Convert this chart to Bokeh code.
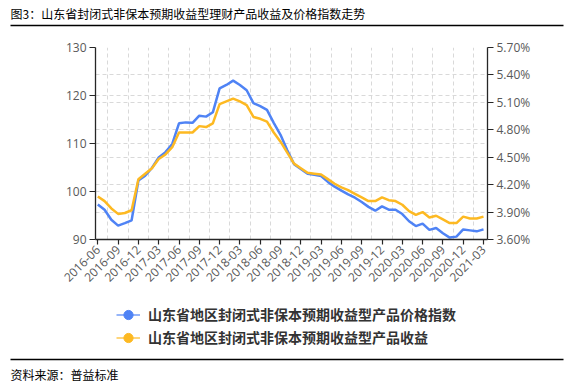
import math
from bokeh.plotting import figure
from bokeh.models import (Range1d, LinearAxis, FixedTicker, PrintfTickFormatter, Grid,
                          Legend, LegendItem)
from bokeh.embed import file_html
from bokeh.resources import INLINE
from bokeh.core.properties import value

# ---------------- data ----------------
months = [
    "2016-06", "2016-07", "2016-08", "2016-09", "2016-10", "2016-11", "2016-12",
    "2017-01", "2017-02", "2017-03", "2017-04", "2017-05", "2017-06", "2017-07",
    "2017-08", "2017-09", "2017-10", "2017-11", "2017-12", "2018-01", "2018-02",
    "2018-03", "2018-04", "2018-05", "2018-06", "2018-07", "2018-08", "2018-09",
    "2018-10", "2018-11", "2018-12", "2019-01", "2019-02", "2019-03", "2019-04",
    "2019-05", "2019-06", "2019-07", "2019-08", "2019-09", "2019-10", "2019-11",
    "2019-12", "2020-01", "2020-02", "2020-03", "2020-04", "2020-05", "2020-06",
    "2020-07", "2020-08", "2020-09", "2020-10", "2020-11", "2020-12", "2021-01",
    "2021-02", "2021-03",
]

price_index = [
    97.3, 96.2, 94.1, 92.9, 93.4, 94.0, 102.3, 103.3, 104.9, 107.1,
    108.2, 109.9, 114.2, 114.4, 114.3, 115.8, 115.6, 116.5, 121.5, 122.2,
    123.1, 122.2, 121.1, 118.4, 117.8, 117.0, 114.3, 111.8, 108.6, 105.7,
    104.7, 103.7, 103.5, 103.2, 102.0, 101.0, 100.2, 99.4, 98.7, 97.8,
    96.8, 96.0, 96.9, 96.2, 96.2, 95.3, 93.8, 92.8, 93.3, 92.0,
    92.4, 91.3, 90.4, 90.6, 92.1, 91.9, 91.7, 92.1,
]

yield_pct = [
    4.07, 4.02, 3.94, 3.88, 3.89, 3.92, 4.26, 4.32, 4.38, 4.48,
    4.53, 4.61, 4.77, 4.77, 4.77, 4.84, 4.83, 4.87, 5.08, 5.11,
    5.14, 5.11, 5.07, 4.94, 4.92, 4.89, 4.77, 4.67, 4.55, 4.43,
    4.38, 4.33, 4.32, 4.31, 4.26, 4.21, 4.17, 4.14, 4.10, 4.06,
    4.02, 4.02, 4.06, 4.03, 4.02, 3.98, 3.91, 3.87, 3.90, 3.84,
    3.86, 3.82, 3.78, 3.78, 3.85, 3.83, 3.83, 3.85,
]

left_ticks = [90, 100, 110, 120, 130]
right_ticks = [3.6, 3.9, 4.2, 4.5, 4.8, 5.1, 5.4, 5.7]

title_text = "图3：山东省封闭式非保本预期收益型理财产品收益及价格指数走势"
source_text = "资料来源：普益标准"
series_names = [
    "山东省地区封闭式非保本预期收益型产品价格指数",
    "山东省地区封闭式非保本预期收益型产品收益",
]

# ---------------- style ----------------
BLUE = "#4f83f5"
YELLOW = "#fdb922"
AXIS_COLOR = "#262626"
LABEL_COLOR = "#595959"
GRID_COLOR = "#d9d9d9"
CJK = "Noto Sans CJK SC"

W = 568
H_TOP, H_MAIN, H_BOT = 30, 265, 89
FRAME_LEFT, FRAME_W = 95, 392
FRAME_TOP, FRAME_H = 17, 192


def blank(height):
    f = figure(width=W, height=height, x_range=Range1d(0, W), y_range=Range1d(0, height),
               x_axis_type=None, y_axis_type=None, min_border=0,
               output_backend="svg", toolbar_location=None)
    f.outline_line_color = None
    return f


# ---------------- header ----------------
top = blank(H_TOP)
top.text(x=[10], y=[H_TOP - 12.5], text=[title_text], text_font=value(CJK),
         text_font_size=value("12px"), text_baseline="middle", text_align="left",
         text_color="#000000")
top.segment(x0=[10], y0=[H_TOP - 25], x1=[563], y1=[H_TOP - 25],
            line_color="#000000", line_width=1.3)

# ---------------- main chart ----------------
x = list(range(len(months)))
quarter_idx = x[::3]

p = figure(frame_width=FRAME_W, frame_height=FRAME_H,
           x_range=Range1d(-0.34, len(months) - 1 + 0.59),
           y_range=Range1d(left_ticks[0], left_ticks[-1]),
           min_border_left=FRAME_LEFT, min_border_right=W - FRAME_LEFT - FRAME_W,
           min_border_top=FRAME_TOP, min_border_bottom=H_MAIN - FRAME_TOP - FRAME_H,
           output_backend="svg", toolbar_location=None)
p.outline_line_color = None
p.extra_y_ranges = {"right": Range1d(right_ticks[0], right_ticks[-1])}

p.xgrid.ticker = FixedTicker(ticks=[i + 1.5 for i in quarter_idx[:-1]])
p.ygrid.ticker = FixedTicker(ticks=left_ticks)
for g in (p.xgrid[0], p.ygrid[0]):
    g.grid_line_color = GRID_COLOR
    g.grid_line_dash = "4 3"
    g.grid_line_width = 1
rgrid = Grid(dimension=1, ticker=FixedTicker(ticks=right_ticks), y_range_name="right",
             grid_line_color=GRID_COLOR, grid_line_dash="4 3", grid_line_width=1)
p.add_layout(rgrid)

p.xaxis.ticker = FixedTicker(ticks=quarter_idx)
p.xaxis.major_label_overrides = {i: months[i] for i in quarter_idx}
p.xaxis.major_label_orientation = math.pi / 4
p.yaxis.ticker = FixedTicker(ticks=left_ticks)

right_axis = LinearAxis(y_range_name="right", ticker=FixedTicker(ticks=right_ticks),
                        formatter=PrintfTickFormatter(format="%.2f%%"))
p.add_layout(right_axis, "right")

for ax in (p.xaxis[0], p.yaxis[0], right_axis):
    ax.axis_line_color = AXIS_COLOR
    ax.axis_line_width = 1.3
    ax.major_tick_line_color = AXIS_COLOR
    ax.major_tick_line_width = 1.2
    ax.major_tick_in = 0
    ax.major_tick_out = 6
    ax.minor_tick_in = 0
    ax.minor_tick_out = 0
    ax.major_label_text_font = "Open Sans"
    ax.major_label_text_font_size = "12px"
    ax.major_label_text_color = LABEL_COLOR
    ax.major_label_standoff = 3
p.xaxis.major_tick_out = 5

p.line(x, price_index, line_color=BLUE, line_width=2.5)
p.line(x, yield_pct, line_color=YELLOW, line_width=2.5, y_range_name="right")

# ---------------- footer: legend + source ----------------
bot = blank(H_BOT)
# the legend's swatches reuse the series, mapped onto an off-canvas range so only the
# legend glyphs (thin line + dot) are visible
bot.extra_y_ranges = {"off": Range1d(1000, 1001)}
lb = bot.line(x, price_index, line_color=BLUE, line_width=1.2, y_range_name="off")
db = bot.scatter(x, price_index, marker="circle", size=10, fill_color=BLUE,
                 line_color=BLUE, y_range_name="off")
ly = bot.line(x, yield_pct, line_color=YELLOW, line_width=1.2, y_range_name="off")
dy = bot.scatter(x, yield_pct, marker="circle", size=10, fill_color=YELLOW,
                 line_color=YELLOW, y_range_name="off")

legend = Legend(items=[LegendItem(label=series_names[0], renderers=[lb, db]),
                       LegendItem(label=series_names[1], renderers=[ly, dy])],
                location=(116, 35.5), orientation="vertical",
                glyph_width=24, glyph_height=23, label_height=23, spacing=0,
                padding=6, margin=0, label_standoff=8,
                label_text_font=CJK, label_text_font_size="14px",
                label_text_font_style="bold", label_text_color="#333333",
                border_line_color=None, background_fill_alpha=0)
bot.add_layout(legend)

bot.segment(x0=[10], y0=[H_BOT - 64], x1=[563], y1=[H_BOT - 64],
            line_color="#000000", line_width=1.3)
bot.text(x=[10], y=[H_BOT - 79], text=[source_text], text_font=value(CJK),
         text_font_size=value("12px"), text_baseline="middle", text_align="left",
         text_color="#000000")

with open("out.html", "w") as f:
    f.write(file_html([top, p, bot], INLINE))
